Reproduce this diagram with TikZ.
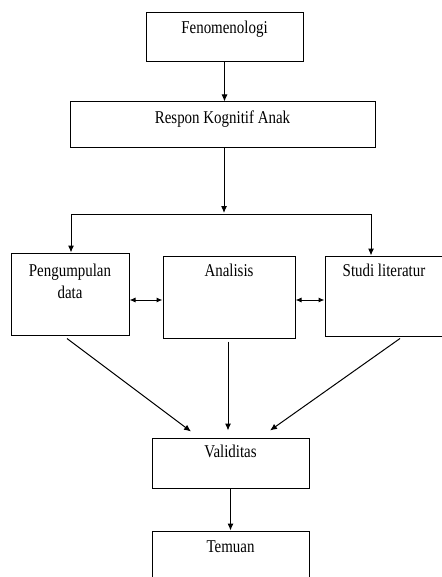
\documentclass[tikz,border=0pt]{standalone}
\usepackage{fontspec}
\setmainfont{Liberation Serif}[FakeStretch=0.83]
\usetikzlibrary{arrows.meta,calc}
\begin{document}
\begin{tikzpicture}[x=1pt,y=1pt,
  box/.style={draw=black,line width=1pt,rectangle,inner sep=0pt},
  txt/.style={inner sep=0pt,anchor=base,align=center,font=\fontsize{18}{22}\selectfont},
  conn/.style={draw=black,line width=1pt},
  arr/.style={conn,-{Latex[length=7pt,width=6pt]}},
  darr/.style={conn,{Latex[length=6pt,width=5pt]}-{Latex[length=6pt,width=5pt]}}]
\useasboundingbox (0,0) rectangle (441,-577);
\fill[white] (0,0) rectangle (441,-577);
% boxes
\node[box,minimum width=157,minimum height=49] (F) at (224.5,-37.5) {};
\node[box,minimum width=305,minimum height=46] (R) at (222.5,-125) {};
\node[box,minimum width=118,minimum height=82] (P) at (70,-294) {};
\node[box,minimum width=132,minimum height=82] (A) at (229,-297) {};
\node[box,minimum width=122,minimum height=80] (S) at (386,-296) {};
\node[box,minimum width=157,minimum height=50] (V) at (230.5,-463) {};
\node[box,minimum width=157,minimum height=60] (T) at (230.5,-561) {};
% texts
\node[txt] (Ft) at ($(F.north)+(0,-21)$) {Fenomenologi};
\node[txt] (Rt) at ($(R.north)+(0,-22)$) {Respon Kognitif Anak};
\node[txt] (Pt) at ($(P.north)+(0,-46)$) {Pengumpulan\\data};
\node[txt] (At) at ($(A.north)+(0,-21)$) {Analisis};
\node[txt] (St) at ($(S.north)+(-2,-21)$) {Studi literatur};
\node[txt] (Vt) at ($(V.north)+(0,-20)$) {Validitas};
\node[txt] (Tt) at ($(T.north)+(0,-22)$) {Temuan};
% coordinates
\coordinate (J) at (224,-213);
\coordinate (JL) at (71,-214);
\coordinate (JR) at (371,-214);
\coordinate (H) at (0,-300);
% connectors
\draw[arr] (F.south) -- (F.south |- R.north);
\draw[arr] (R.south -| J) -- (J);
\draw[conn] (JL) -- (JR);
\draw[arr] (JL) -- (JL |- P.north);
\draw[arr] (JR) -- (JR |- S.north);
\draw[darr] (P.east |- H) -- (A.west |- H);
\draw[darr] (A.east |- H) -- (S.west |- H);
\draw[arr] ($(P.south)+(-3,-3)$) -- ($(V.north)+(-39.5,6)$);
\draw[arr] ($(A.south)+(-1,-3)$) -- ($(V.north)+(-2.5,7)$);
\draw[arr] ($(S.south)+(14,-2)$) -- ($(V.north)+(39.5,7)$);
\draw[arr] (V.south) -- (T.north);
\end{tikzpicture}
\end{document}
